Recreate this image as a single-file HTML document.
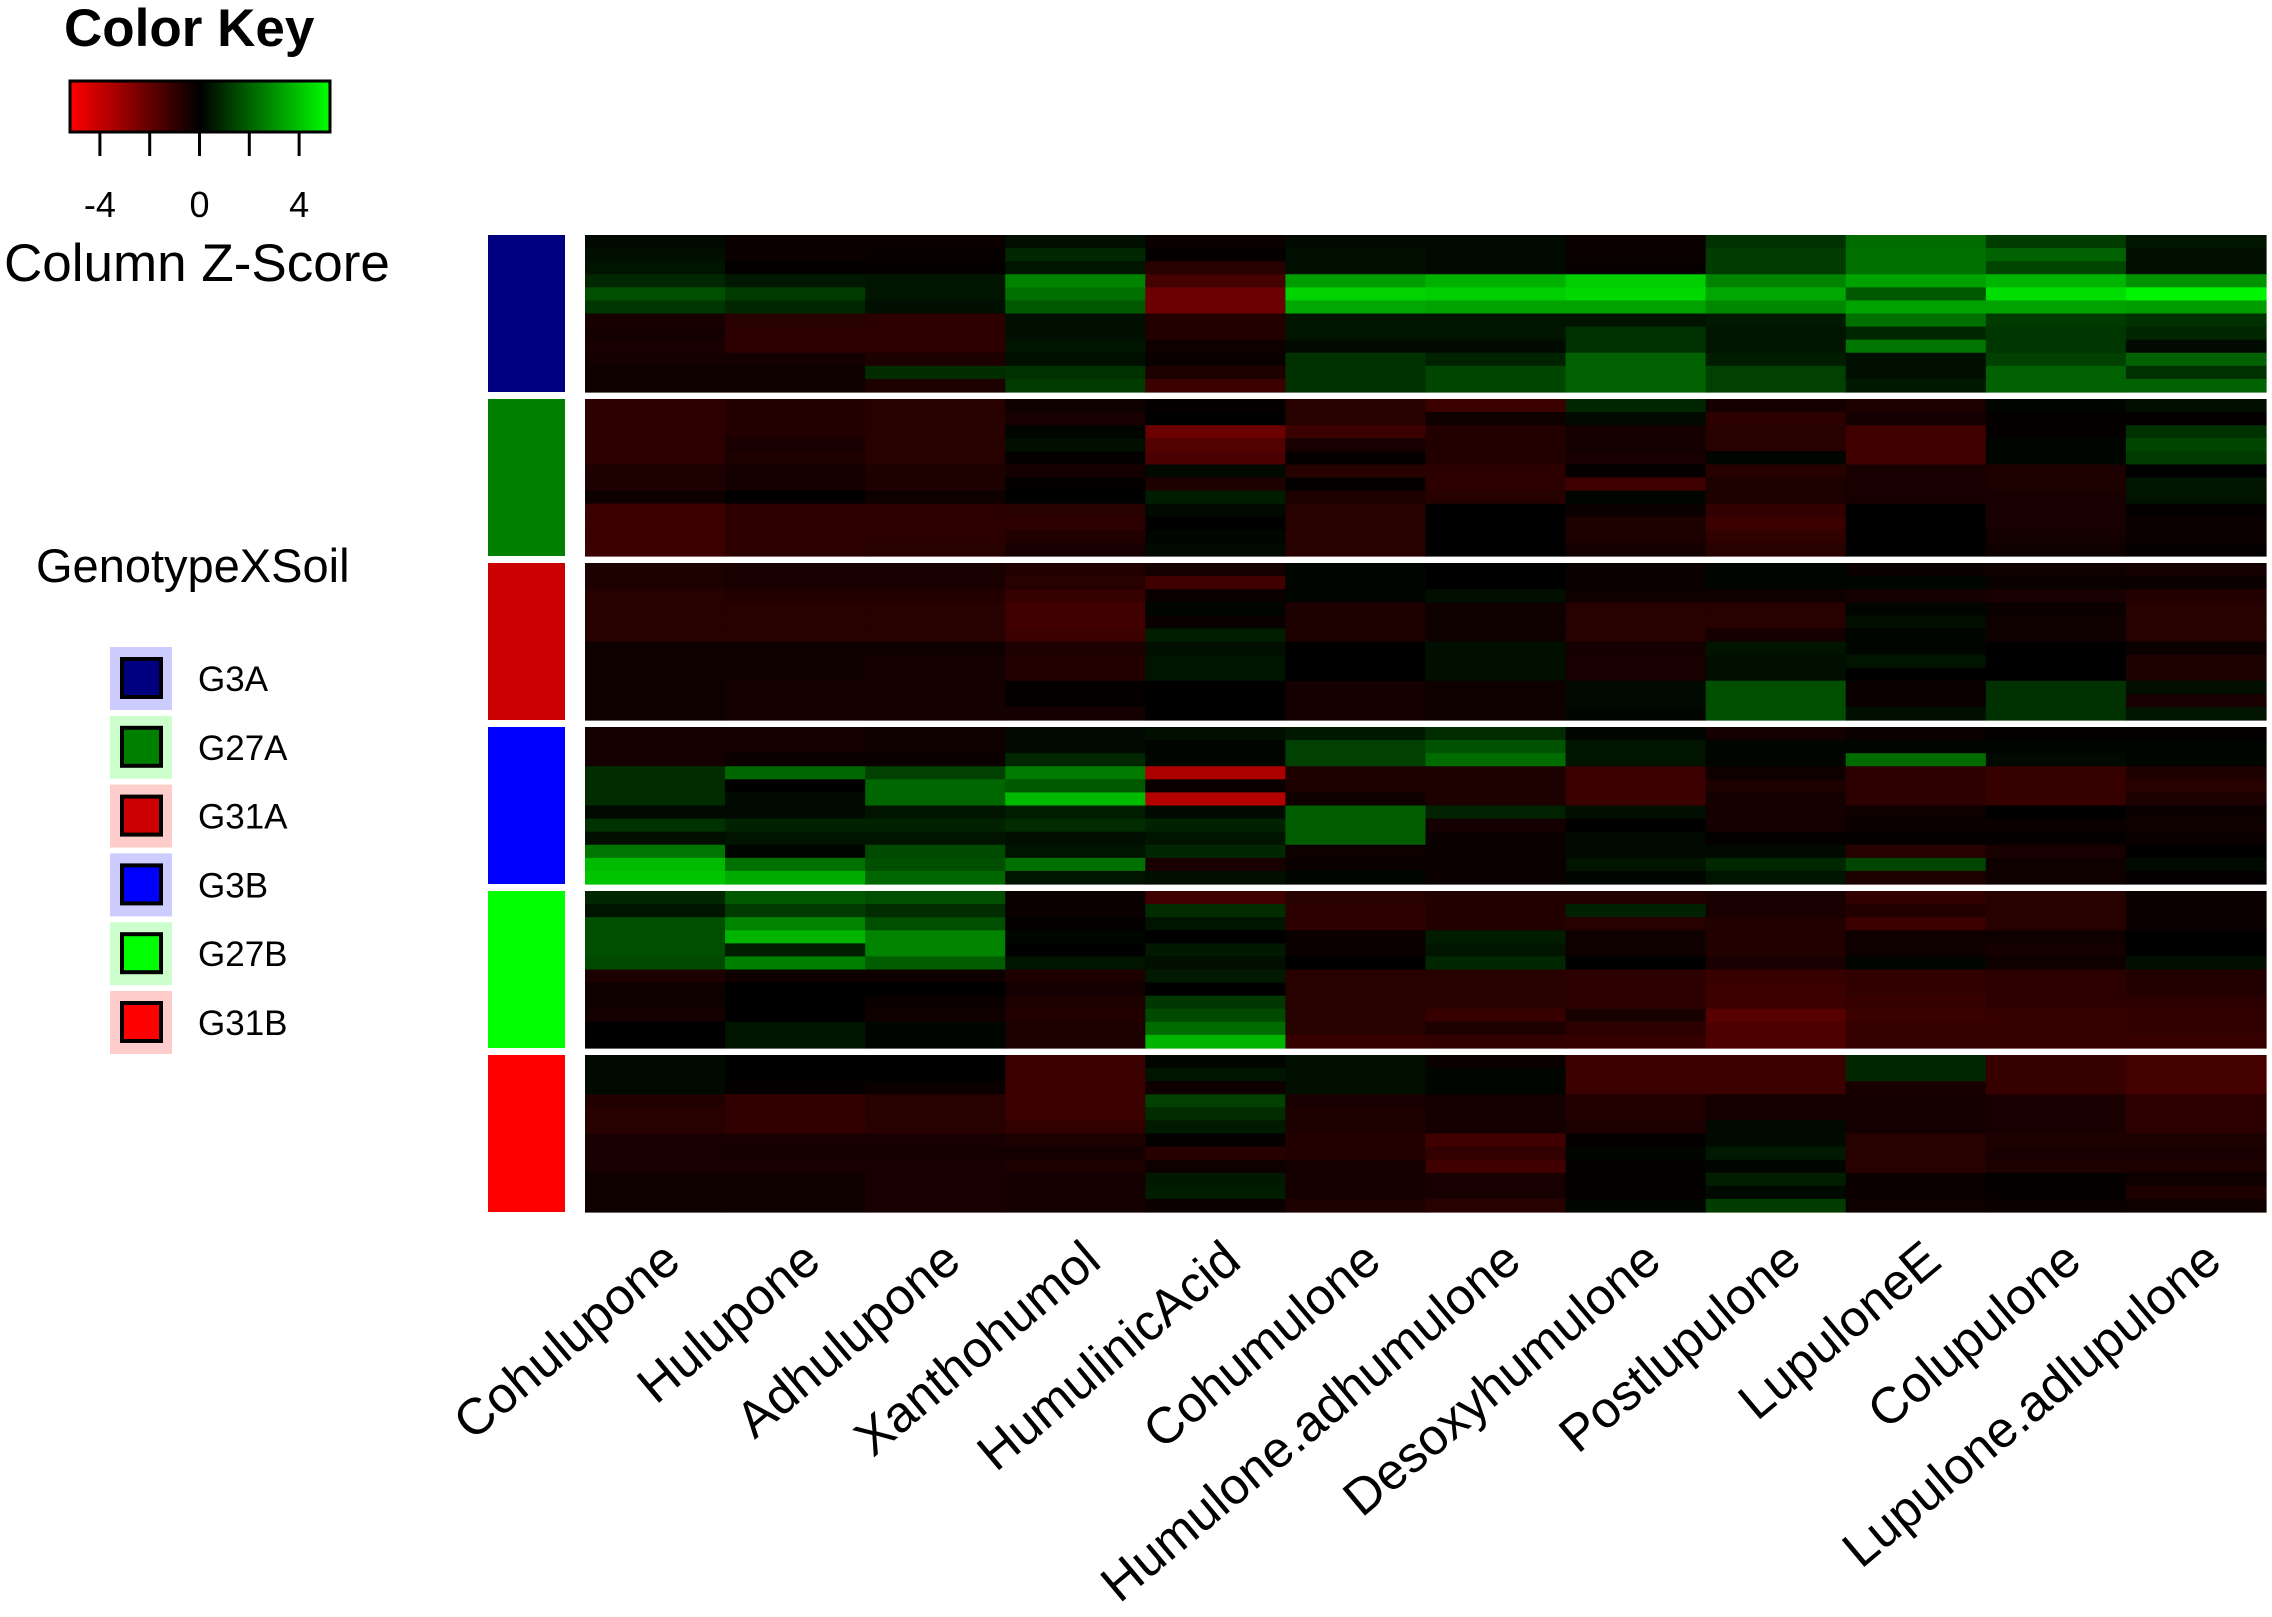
<!DOCTYPE html>
<html><head><meta charset="utf-8">
<style>
html,body{margin:0;padding:0;background:#fff;}
svg{display:block;font-family:"Liberation Sans",Arial,sans-serif;}
</style></head>
<body>
<svg id="chart" width="2272" height="1617" viewBox="0 0 2272 1617" xmlns="http://www.w3.org/2000/svg">
  <defs>
    <linearGradient id="keyGrad" x1="0" x2="1" y1="0" y2="0">
      <stop offset="0" stop-color="#ff0000"/>
      <stop offset="0.5" stop-color="#000000"/>
      <stop offset="1" stop-color="#00ff00"/>
    </linearGradient>
  </defs>
  <text x="64" y="46" font-size="53" font-weight="bold">Color Key</text>
  <rect x="70" y="81" width="260" height="51" fill="url(#keyGrad)" stroke="#000" stroke-width="3"/>
  <g id="keyTicks"></g>
  <text x="4" y="281" font-size="53">Column Z-Score</text>
  <text x="36" y="582" font-size="47">GenotypeXSoil</text>
  <g id="legend"></g>
  <g id="side"></g>
  <g id="cells"></g>
  <g id="xlabels"></g>
</svg>
<script>
const columns = ["Cohulupone","Hulupone","Adhulupone","Xanthohumol","HumulinicAcid","Cohumulone","Humulone.adhumulone","Desoxyhumulone","Postlupulone","LupuloneE","Colupulone","Lupulone.adlupulone"];
const groups = ["G3A","G27A","G31A","G3B","G27B","G31B"];
const groupColors = ["#000080","#008000","#cc0000","#0000ff","#00ff00","#ff0000"];
const groupBg = ["#ccccff","#ccffcc","#ffcccc","#ccccff","#ccffcc","#ffcccc"];
const keyTicks = [-4,-2,0,2,4];
const keyLabels = [-4,0,4];
const zG3A = [
[0.2,-0.2,-0.2,0.3,-0.2,0.2,0.2,-0.2,1.0,2.2,1.2,0.4],
[0.3,-0.2,-0.15,0.8,-0.1,0.3,0.2,-0.2,1.2,2.3,2.0,0.3],
[0.4,-0.1,-0.1,0.4,-0.8,0.3,0.2,-0.15,1.2,2.3,1.4,0.3],
[0.8,0.5,0.4,2.7,-1.4,3.2,3.6,4.2,2.7,3.3,3.7,3.0],
[1.6,1.2,0.4,2.3,-2.2,4.3,4.2,4.4,3.4,1.8,4.5,5.0],
[1.1,0.8,0.3,1.8,-2.2,3.4,3.3,3.3,2.8,3.3,3.3,3.2],
[-0.5,-0.8,-0.9,0.3,-0.7,0.4,0.4,0.4,0.5,2.3,1.2,1.0],
[-0.4,-0.9,-0.9,0.3,-0.7,0.4,0.4,1.0,0.4,0.8,1.1,0.8],
[-0.5,-0.9,-0.9,0.4,-0.3,0.2,0.2,1.0,0.4,2.4,1.1,0.2],
[-0.4,-0.4,-0.6,0.3,-0.2,1.0,0.7,2.0,0.6,0.3,1.3,2.0],
[-0.3,-0.3,0.9,1.0,-0.6,1.0,1.4,2.0,1.3,0.3,2.0,1.0],
[-0.3,-0.3,-0.6,1.2,-1.2,1.0,1.4,2.0,1.3,0.5,2.0,2.0]];
const zG27A = [
[-0.9,-0.7,-0.8,-0.3,-0.1,-0.8,-1.2,0.8,-0.4,-0.6,0.1,0.3],
[-0.9,-0.7,-0.8,-0.5,0.0,-0.8,-0.3,0.2,-0.9,-0.4,-0.1,-0.1],
[-0.9,-0.7,-0.8,0.1,-2.2,-1.2,-0.7,-0.4,-0.8,-1.3,-0.1,1.0],
[-0.9,-0.5,-0.8,0.3,-1.7,-0.5,-0.7,-0.4,-0.8,-1.3,0.1,1.4],
[-0.9,-0.6,-0.8,-0.1,-1.5,-0.1,-0.7,-0.5,0.1,-1.3,0.1,1.2],
[-0.6,-0.4,-0.6,-0.4,0.2,-0.8,-0.9,-0.1,-0.8,-0.5,-0.6,0.0],
[-0.6,-0.4,-0.6,-0.1,-0.6,-0.1,-0.9,-1.3,-0.6,-0.5,-0.6,0.4],
[-0.3,0.0,-0.3,0.0,0.6,-0.6,-0.8,0.1,-0.6,-0.5,-0.5,0.4],
[-1.2,-0.9,-0.9,-0.8,0.2,-0.8,0.0,-0.2,-1.0,0.0,-0.5,-0.1],
[-1.2,-0.9,-0.9,-0.9,0.0,-0.8,0.0,-0.6,-1.2,0.0,-0.5,-0.2],
[-1.2,-0.9,-0.9,-0.7,0.1,-0.8,0.0,-0.6,-1.0,0.0,-0.4,-0.2],
[-1.2,-0.9,-0.8,-0.5,0.2,-0.8,0.0,-0.4,-0.8,0.0,-0.3,-0.1]];
const zG31A = [
[-0.6,-0.5,-0.5,-0.7,-0.4,0.1,0.0,-0.2,0.1,-0.2,-0.3,-0.4],
[-0.6,-0.5,-0.5,-0.8,-1.3,0.1,0.0,-0.2,0.1,0.1,-0.2,-0.2],
[-0.8,-0.7,-0.7,-1.1,-0.2,0.1,0.3,-0.3,-0.3,-0.4,-0.5,-0.7],
[-0.8,-0.8,-0.8,-1.3,0.1,-0.6,-0.3,-0.8,-0.8,0.1,-0.2,-0.8],
[-0.8,-0.8,-0.8,-1.3,-0.2,-0.6,-0.3,-0.8,-0.8,0.3,-0.3,-0.8],
[-0.8,-0.8,-0.8,-1.2,0.6,-0.6,-0.3,-0.8,-0.4,0.1,-0.3,-0.8],
[-0.3,-0.3,-0.3,-0.6,0.3,0.0,0.3,-0.4,0.4,0.1,0.0,-0.2],
[-0.3,-0.3,-0.4,-0.7,0.4,0.0,0.3,-0.5,0.3,0.4,0.0,-0.6],
[-0.3,-0.3,-0.4,-0.7,0.4,0.0,0.3,-0.5,0.3,0.0,0.0,-0.6],
[-0.3,-0.4,-0.4,-0.1,0.0,-0.4,-0.3,0.2,1.6,-0.2,1.0,0.3],
[-0.3,-0.4,-0.4,-0.1,0.0,-0.4,-0.3,0.2,1.6,-0.2,1.0,-0.5],
[-0.3,-0.4,-0.4,-0.4,0.0,-0.4,-0.3,0.1,1.6,0.3,1.0,0.4]];
const zG3B = [
[-0.4,-0.4,-0.3,0.2,0.3,0.5,0.9,0.1,-0.4,-0.2,-0.1,-0.1],
[-0.4,-0.4,-0.3,0.2,0.1,1.3,1.7,0.4,0.1,0.1,0.1,0.1],
[-0.4,-0.2,-0.2,0.8,0.1,1.3,2.2,0.4,0.1,2.2,0.2,0.1],
[0.9,2.1,1.3,2.5,-3.5,-0.6,-0.6,-1.2,-0.3,-0.9,-1.1,-0.6],
[0.9,0.0,2.1,1.8,-0.2,-0.6,-0.6,-1.2,-0.6,-0.9,-1.1,-0.8],
[0.9,0.2,2.1,3.8,-3.7,-0.3,-0.6,-1.2,-0.4,-0.9,-1.1,-0.6],
[0.2,0.2,0.4,0.6,0.2,1.9,0.7,0.3,-0.4,-0.3,0.0,-0.2],
[1.0,0.7,0.7,0.9,0.7,1.9,-0.4,0.0,-0.4,-0.2,-0.2,-0.3],
[0.3,0.4,0.4,0.3,0.4,1.9,-0.2,0.2,-0.1,-0.1,-0.1,-0.2],
[2.4,0.1,1.5,0.4,0.8,-0.3,-0.2,0.2,0.2,-0.8,-0.5,0.0],
[3.8,2.3,1.6,2.3,-0.5,-0.2,-0.2,0.4,0.8,1.4,-0.3,0.2],
[4.0,3.5,2.1,0.4,0.3,0.1,-0.2,0.1,0.4,-0.6,-0.3,-0.1]];
const zG27B = [
[0.8,1.8,1.6,-0.2,-1.3,-0.8,-0.7,-0.7,-0.5,-1.0,-0.8,-0.2],
[0.4,1.2,0.9,-0.2,0.9,-0.9,-0.7,0.7,-0.5,-0.7,-0.8,-0.2],
[1.6,2.7,1.6,-0.1,0.4,-0.9,-0.7,-0.8,-0.7,-1.2,-0.8,-0.2],
[1.6,3.7,2.7,0.1,0.0,-0.2,0.6,-0.3,-0.7,-0.3,-0.3,0.0],
[1.6,0.6,2.7,0.0,0.5,-0.2,0.4,-0.3,-0.7,-0.3,-0.4,0.0],
[1.5,2.6,1.9,0.4,0.3,0.0,0.8,0.0,-0.5,0.1,-0.3,0.3],
[-0.6,-0.3,-0.3,-0.6,0.5,-0.8,-0.8,-0.9,-1.1,-1.0,-0.9,-0.7],
[-0.3,0.0,0.0,-0.4,0.0,-0.8,-0.8,-0.9,-1.2,-1.0,-0.9,-0.7],
[-0.3,0.0,-0.2,-0.6,1.1,-0.8,-0.8,-0.9,-1.2,-1.1,-0.9,-0.9],
[-0.4,0.0,-0.3,-0.7,1.5,-0.8,-1.1,-0.5,-1.8,-1.2,-1.1,-1.0],
[0.0,0.4,0.1,-0.6,2.2,-0.8,-0.6,-0.9,-1.6,-1.1,-1.1,-1.0],
[0.0,0.4,0.1,-0.6,3.7,-1.1,-1.0,-1.1,-1.6,-1.1,-1.1,-1.1]];
const zG31B = [
[0.2,0.0,0.0,-1.2,0.1,0.3,-0.2,-1.2,-1.2,0.8,-1.1,-1.4],
[0.2,0.0,0.0,-1.2,0.4,0.3,0.1,-1.2,-1.2,0.8,-1.1,-1.4],
[0.2,-0.1,-0.2,-1.2,-0.3,0.3,0.1,-1.2,-1.2,-0.5,-1.1,-1.4],
[-0.7,-1.0,-0.8,-1.2,1.3,-0.5,-0.4,-0.7,-0.4,-0.4,-0.5,-0.9],
[-0.8,-1.0,-0.8,-1.2,0.9,-0.6,-0.4,-0.7,-0.4,-0.4,-0.5,-0.9],
[-0.8,-1.0,-0.8,-1.0,0.5,-0.6,-0.4,-0.6,0.2,-0.4,-0.5,-0.9],
[-0.5,-0.5,-0.5,-0.6,-0.1,-0.7,-1.3,-0.1,0.2,-0.8,-0.6,-0.6],
[-0.5,-0.4,-0.4,-0.4,-0.8,-0.7,-1.0,0.1,0.5,-0.8,-0.5,-0.5],
[-0.5,-0.5,-0.5,-0.6,-0.3,-0.4,-1.3,-0.1,0.1,-0.8,-0.6,-0.6],
[-0.3,-0.3,-0.5,-0.4,0.5,-0.4,-0.5,-0.1,0.6,-0.2,-0.1,-0.3],
[-0.3,-0.3,-0.5,-0.4,0.6,-0.4,-0.5,-0.1,0.2,-0.2,-0.1,-0.6],
[-0.3,-0.3,-0.5,-0.4,-0.2,-0.6,-0.8,0.1,1.2,-0.3,-0.2,-0.3]];
const groupData = [zG3A,zG27A,zG31A,zG3B,zG27B,zG31B];

const NS = "http://www.w3.org/2000/svg";
function mk(tag, attrs, parent){const e=document.createElementNS(NS,tag);for(const k in attrs)e.setAttribute(k,attrs[k]);parent.appendChild(e);return e;}

const X0=585, X1=2266, Y0=235, Y1=1212, GAP=7;
const nCol=columns.length, nG=groups.length;
const colW=(X1-X0)/nCol;
const gPitch=(Y1-Y0+GAP)/nG, gH=gPitch-GAP;
function xPos(c){return X0+c*colW;}
function gTop(g){return Y0+g*gPitch;}
function color(z){const t=Math.max(-1,Math.min(1,z/5.2));const v=Math.round(Math.abs(t)*255);return t<0?`rgb(${v},0,0)`:`rgb(0,${v},0)`;}
function keyX(v){return 199.5+v*24.9;}

const cells=document.getElementById('cells');
groupData.forEach((rows,g)=>{
  const rh=gH/rows.length;
  rows.forEach((row,r)=>{
    row.forEach((z,c)=>{
      const el=mk('rect',{x:xPos(c).toFixed(2),y:(gTop(g)+r*rh).toFixed(2),width:(colW+0.6).toFixed(2),height:(rh+0.6).toFixed(2),fill:color(z)},cells);
      
      
    });
  });
});

const side=document.getElementById('side');
groups.forEach((gname,g)=>{
  const el=mk('rect',{x:488,y:gTop(g).toFixed(2),width:77,height:gH.toFixed(2),fill:groupColors[g]},side);
  
  
});

const xl=document.getElementById('xlabels');
columns.forEach((name,c)=>{
  const cx=xPos(c)+colW/2+28, cy=1265;
  const t=mk('text',{x:cx,y:cy,'font-size':51,'text-anchor':'end',transform:`rotate(-40 ${cx} ${cy})`},xl);
  t.textContent=name;
  
  
});

const kt=document.getElementById('keyTicks');
keyTicks.forEach(v=>{
  const l=mk('line',{x1:keyX(v),x2:keyX(v),y1:132,y2:156,stroke:'#000','stroke-width':3},kt);
  
  
});
keyLabels.forEach(v=>{
  const t=mk('text',{x:keyX(v),y:217,'font-size':36,'text-anchor':'middle'},kt);
  t.textContent=String(v);
  
  
});

const lg=document.getElementById('legend');
groups.forEach((gname,g)=>{
  const y=647+g*68.8;
  const bg=mk('rect',{x:110,y:y,width:62,height:63,fill:groupBg[g]},lg);
  
  
  const sw=mk('rect',{x:122,y:y+12,width:39,height:38,fill:groupColors[g],stroke:'#000','stroke-width':4},lg);
  
  
  const t=mk('text',{x:198,y:y+44,'font-size':35},lg);
  t.textContent=gname;
  
  
});
</script>
</body></html>
